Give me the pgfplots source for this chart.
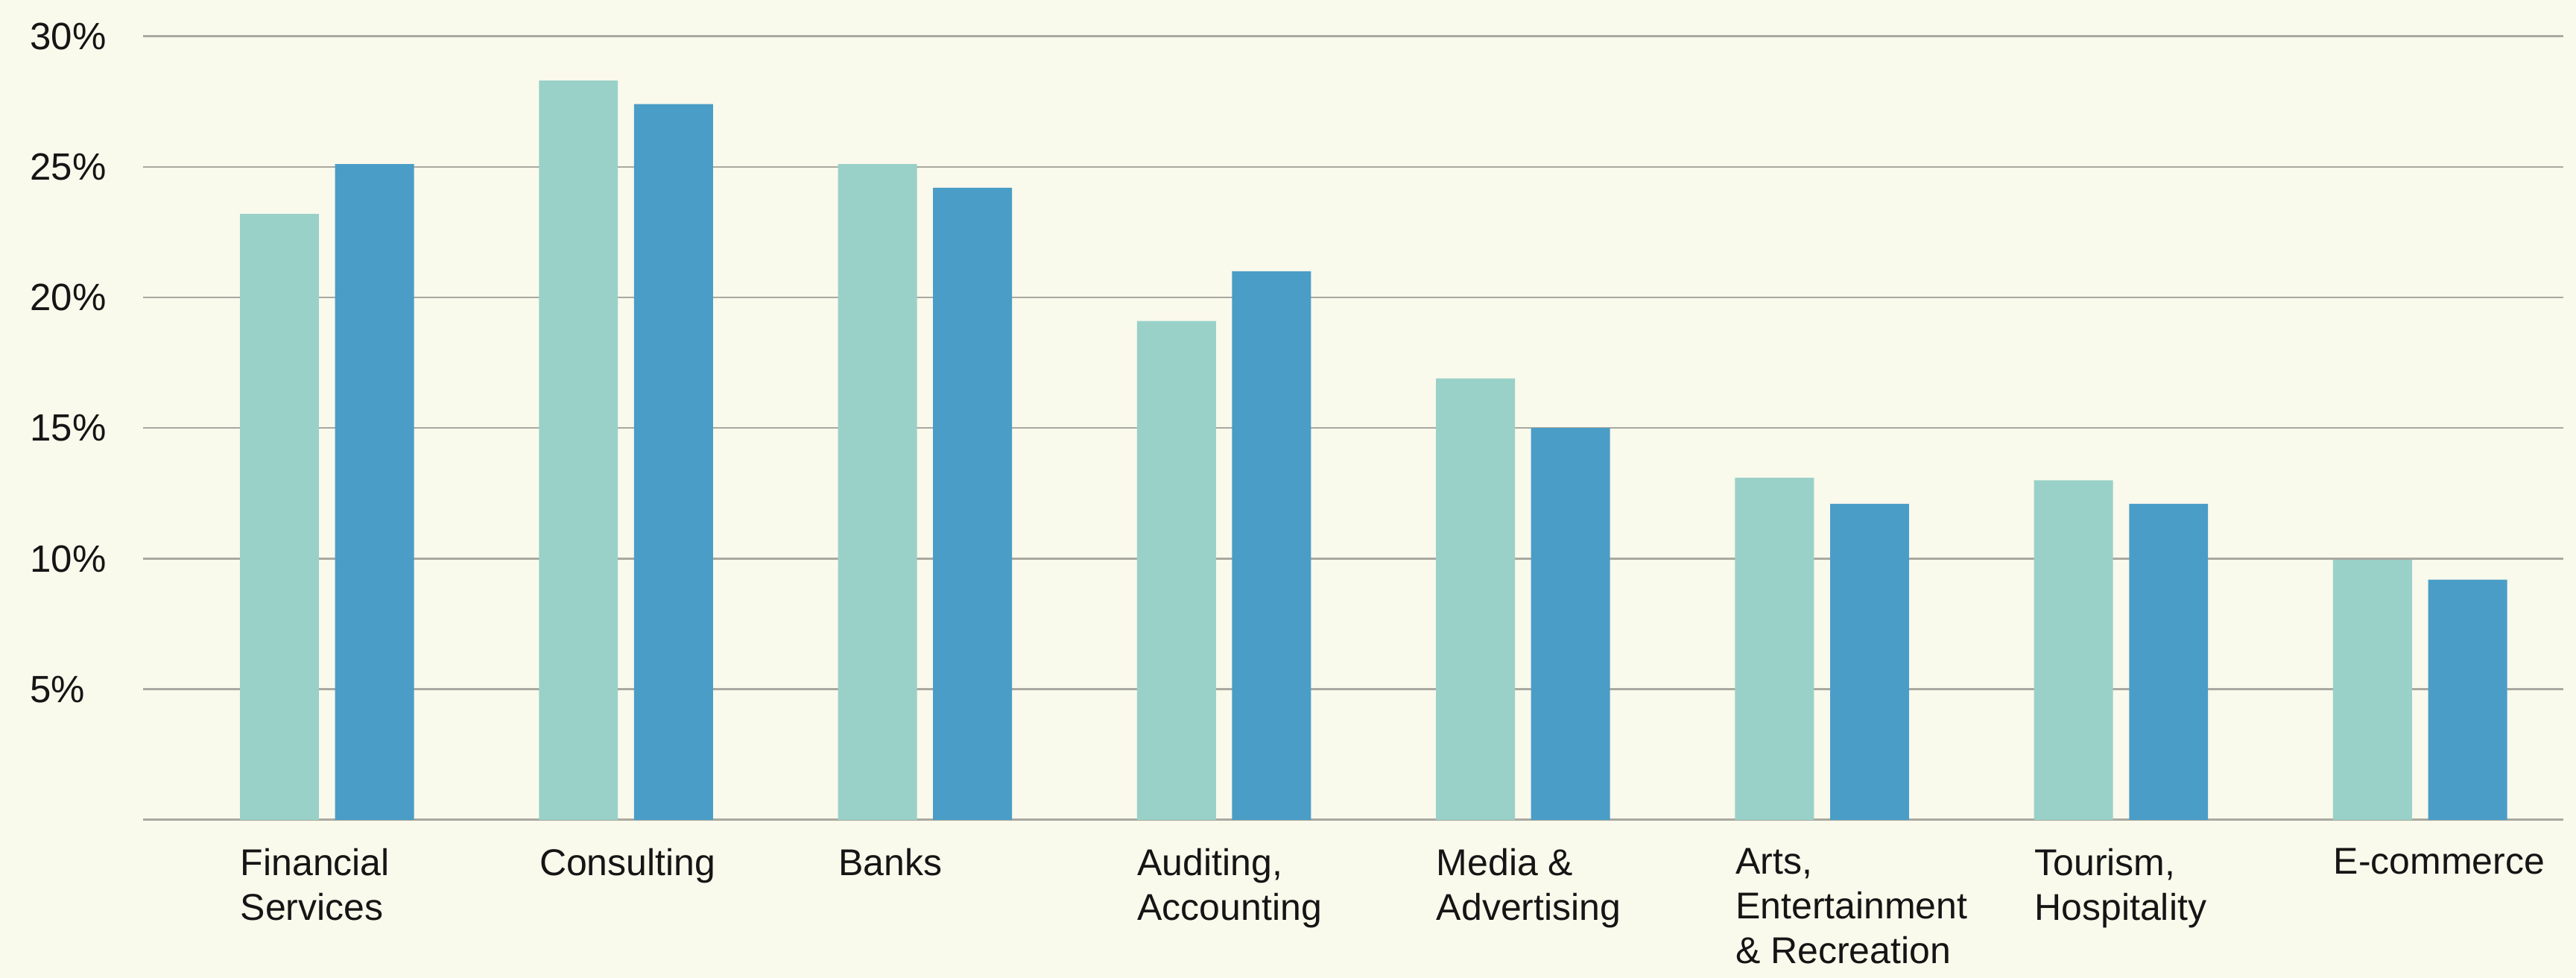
\documentclass[border=0pt]{standalone}
\usepackage{fontspec}
\setmainfont{Liberation Sans}
\usepackage{pgfplots}
\pgfplotsset{compat=1.18}
\definecolor{bgc}{HTML}{F9F9EC}
\definecolor{lightbar}{HTML}{99D1C8}
\definecolor{darkbar}{HTML}{4A9DC6}
\definecolor{gridc}{HTML}{A9A9A1}
\definecolor{txt}{HTML}{151515}
\begin{document}
\begin{tikzpicture}
\fill[bgc] (0,0) rectangle (691.4pt,262.4pt);
\begin{axis}[
  at={(38.4pt,42.4pt)}, anchor=south west,
  scale only axis, width=649.5pt, height=210.3pt,
  xmin=-0.615, xmax=7.478, ymin=0, ymax=30,
  axis line style={draw=none},
  tick style={draw=none},
  ymajorgrids, grid style={gridc, line width=0.5pt},
  ytick={5,10,15,20,25,30},
  yticklabels={5\%,10\%,15\%,20\%,25\%,30\%},
  extra y ticks={0}, extra y tick labels={},
  extra y tick style={grid style={gridc, line width=0.6pt}},
  yticklabel style={anchor=west, inner sep=0pt, xshift=-30.5pt, font=\fontsize{10.2}{12}\selectfont, text=txt},
  xtick={0,1,2,3,4,5,6,7},
  xticklabels={{Financial\\Services},{Consulting},{Banks},{Auditing,\\Accounting},{Media \&\\Advertising},{Arts,\\Entertainment\\\& Recreation},{Tourism,\\Hospitality},{E-commerce}},
  xticklabel style={anchor=north west, align=left, inner sep=0pt, xshift=-23.4pt, yshift=-3.2pt, font=\fontsize{10}{12}\selectfont, text=txt},
  ybar, bar width=0.264,
  every axis plot/.append style={draw=none},
]
\addplot[fill=lightbar, bar shift=-0.159] coordinates {(0,23.2) (1,28.3) (2,25.1) (3,19.1) (4,16.9) (5,13.1) (6,13.0) (7,9.95)};
\addplot[fill=darkbar, bar shift=0.159] coordinates {(0,25.1) (1,27.4) (2,24.2) (3,21.0) (4,15.0) (5,12.1) (6,12.1) (7,9.2)};
\end{axis}
\pgfresetboundingbox
\path (0,0) rectangle (691.4pt,262.4pt);
\end{tikzpicture}
\end{document}
